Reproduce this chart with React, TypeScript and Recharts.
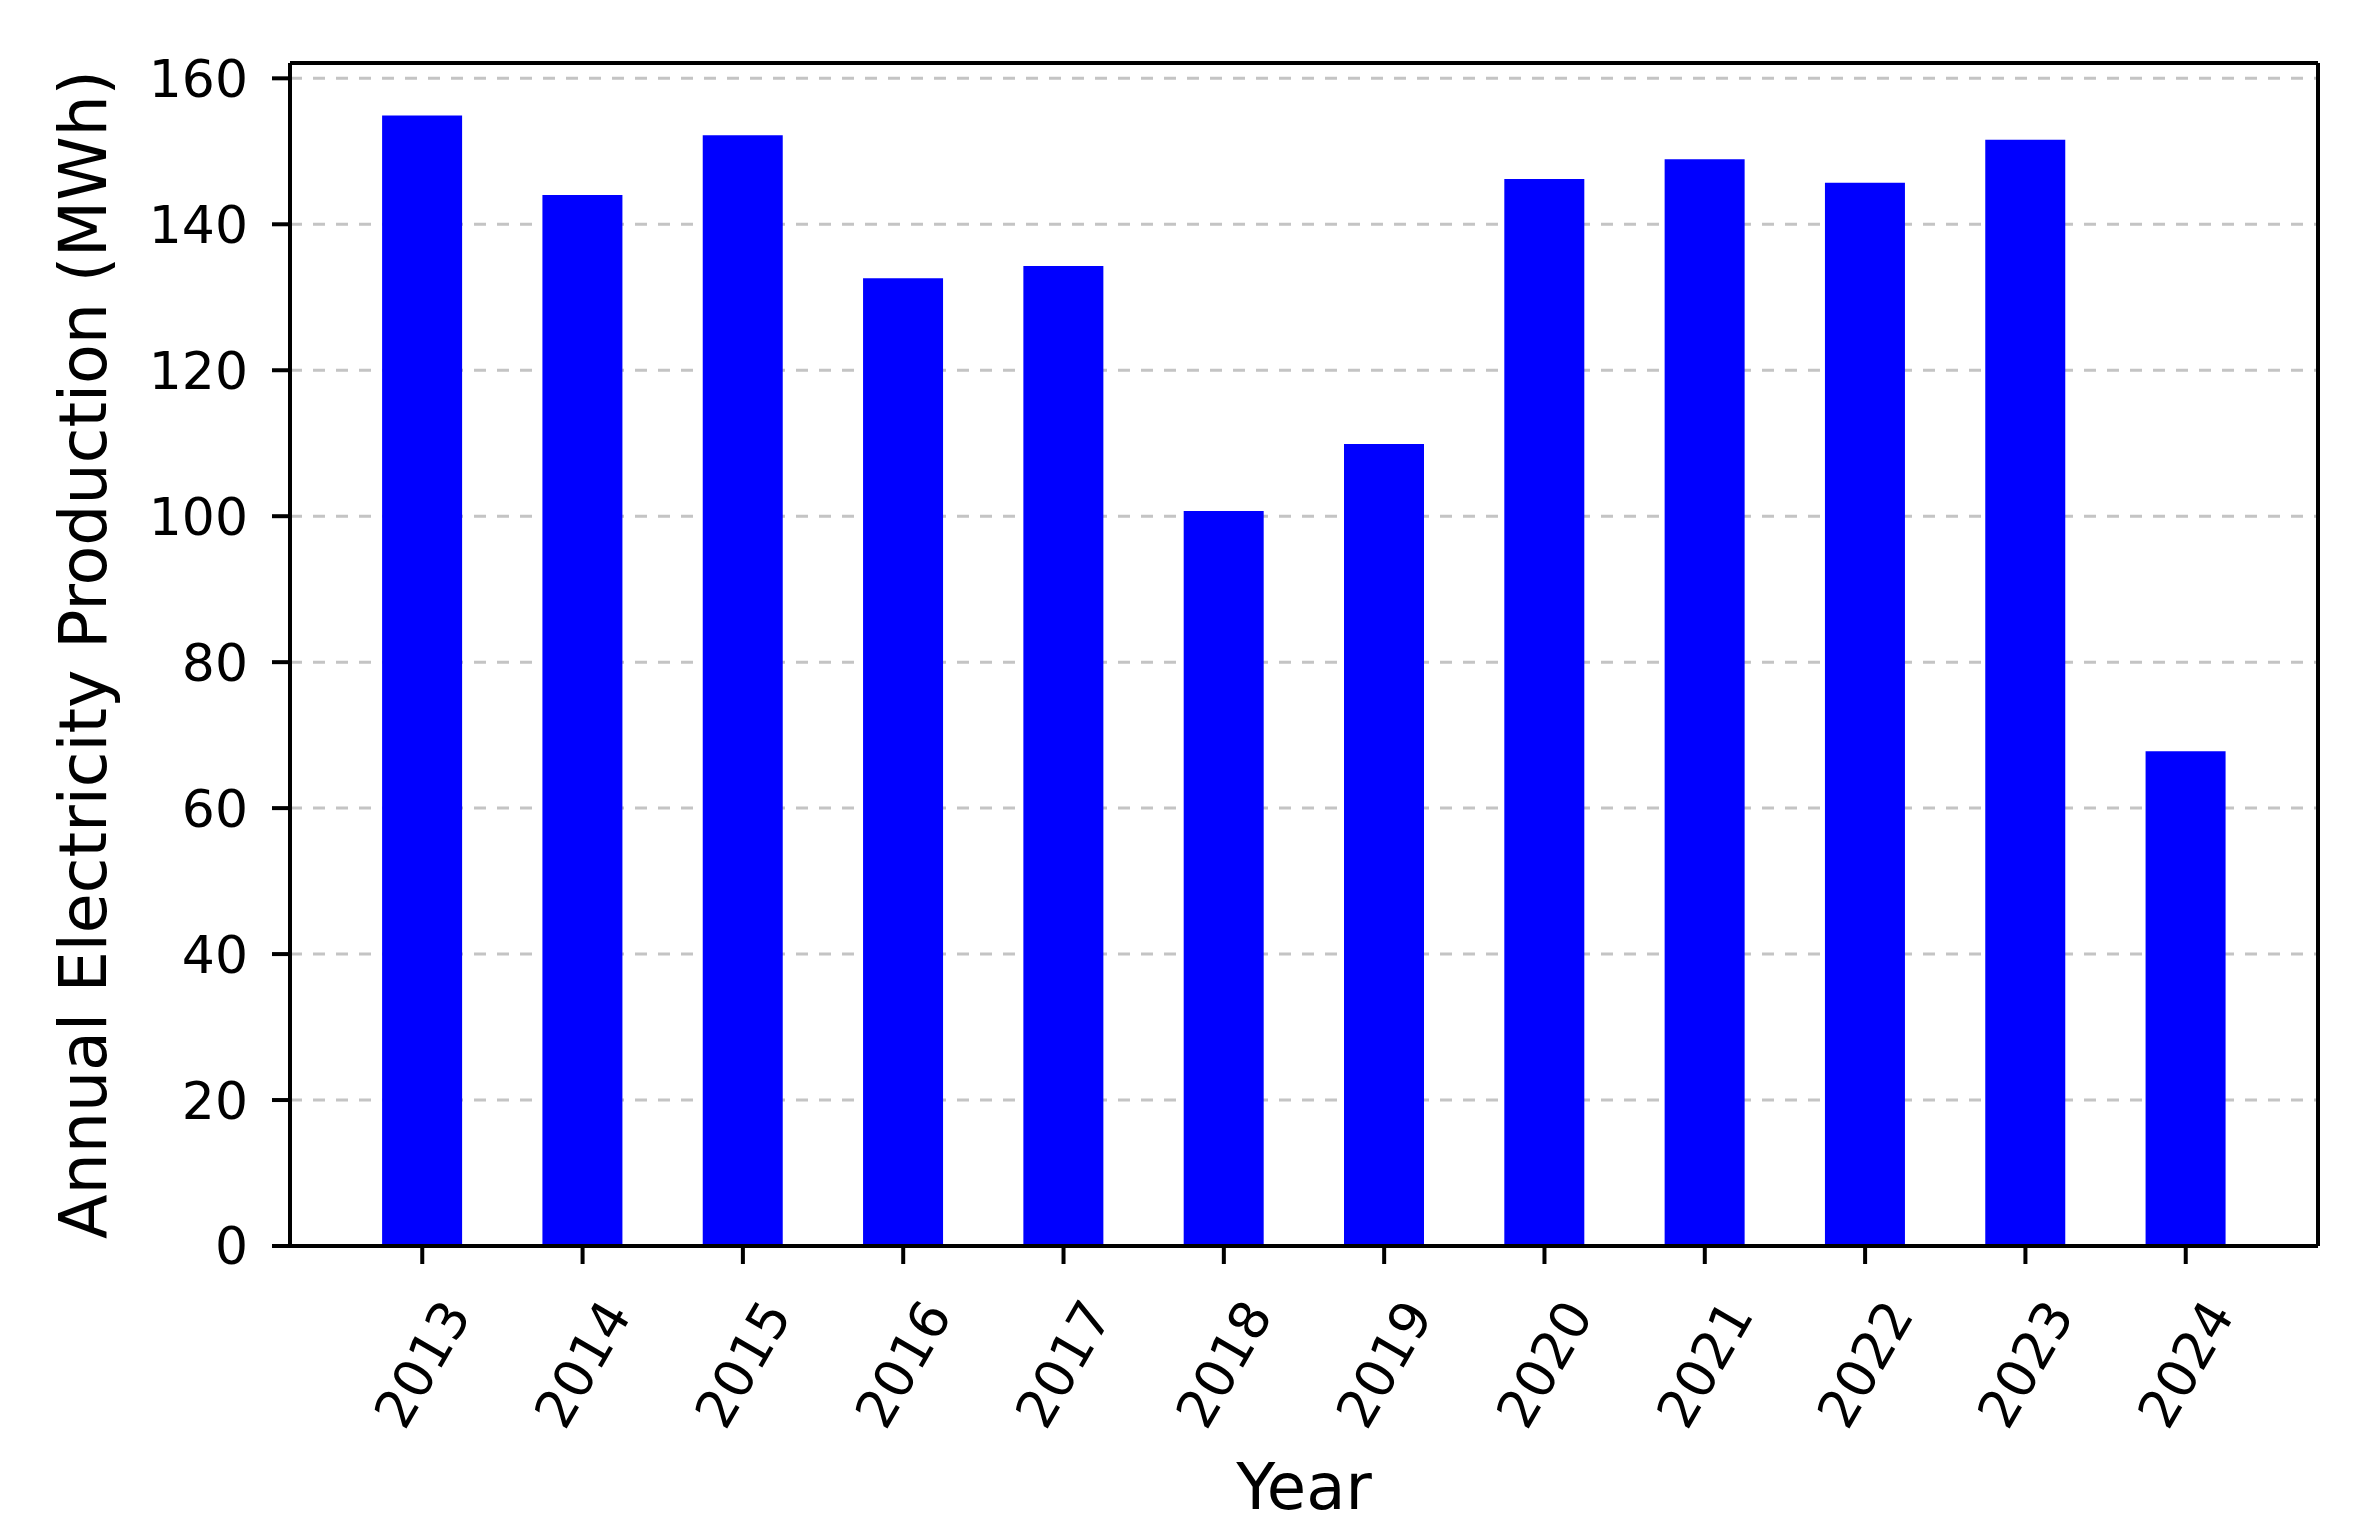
import React from 'react';
import { BarChart, Bar, XAxis, YAxis, CartesianGrid, Label, ReferenceLine } from 'recharts';

const years = ['2013', '2014', '2015', '2016', '2017', '2018', '2019', '2020', '2021', '2022', '2023', '2024'];
const production = [154.9, 144.0, 152.2, 132.6, 134.3, 100.7, 109.9, 146.2, 148.9, 145.7, 151.6, 67.8];
const yTicks = [0, 20, 40, 60, 80, 100, 120, 140, 160];
const yMax = 162.1;
// x limits as matplotlib sets them: bar edges plus 5% margin
const xMin = -0.825;
const xMax = 11.825;

const data = years.map((year, i) => ({ idx: i, year, value: production[i] }));
const xTicks = data.map(d => d.idx);

const FONT = '"DejaVu Sans", Verdana, sans-serif';

// rotated year labels, centred under each tick like matplotlib rotation=60
const YearTick = (props: any) => {
  const { x, y, payload } = props;
  const cy = y + 100;
  return (
    <text
      x={x}
      y={cy}
      transform={`rotate(-60, ${x}, ${cy})`}
      textAnchor="middle"
      dominantBaseline="central"
      fontSize={53}
      fontFamily={FONT}
      fill="#000"
    >
      {years[payload.value]}
    </text>
  );
};

const YLabel = (props: any) => {
  const { viewBox } = props;
  const cx = viewBox.x + 83;
  const cy = viewBox.y + viewBox.height / 2;
  return (
    <text
      x={cx}
      y={cy}
      transform={`rotate(-90, ${cx}, ${cy})`}
      textAnchor="middle"
      dominantBaseline="central"
      fontSize={65}
      fontFamily={FONT}
      fill="#000"
    >
      Annual Electricity Production (MWh)
    </text>
  );
};

const XLabel = (props: any) => {
  const { viewBox } = props;
  return (
    <text
      x={viewBox.x + viewBox.width / 2}
      y={viewBox.y + 241}
      textAnchor="middle"
      dominantBaseline="central"
      fontSize={64}
      fontFamily={FONT}
      fill="#000"
    >
      Year
    </text>
  );
};

export default function App() {
  return (
    <div style={{ position: 'absolute', left: 0, top: 0, background: '#fff' }}>
      <BarChart
        width={2360}
        height={1535}
        data={data}
        margin={{ top: 63, right: 42, bottom: 0, left: 0 }}
      >
        <CartesianGrid
          vertical={false}
          horizontalValues={yTicks}
          stroke="#c4c4c4"
          strokeWidth={3}
          strokeDasharray="12 11"
        />
        <XAxis
          dataKey="idx"
          type="number"
          domain={[xMin, xMax]}
          ticks={xTicks}
          interval={0}
          height={289}
          axisLine={{ stroke: '#000', strokeWidth: 4 }}
          tickLine={{ stroke: '#000', strokeWidth: 4 }}
          tickSize={18}
          tickMargin={0}
          tick={<YearTick />}
        >
          <Label content={<XLabel />} />
        </XAxis>
        <YAxis
          domain={[0, yMax]}
          ticks={yTicks}
          width={290}
          interval={0}
          axisLine={{ stroke: '#000', strokeWidth: 4 }}
          tickLine={{ stroke: '#000', strokeWidth: 4 }}
          tickSize={18}
          tickMargin={24}
          tick={{ fontSize: 52, fill: '#000', fontFamily: FONT }}
        >
          <Label content={<YLabel />} />
        </YAxis>
        <Bar dataKey="value" fill="#0000ff" barSize={80} isAnimationActive={false} />
        {/* top and right spines */}
        <ReferenceLine y={yMax} stroke="#000" strokeWidth={4} ifOverflow="visible" />
        <ReferenceLine x={xMax} stroke="#000" strokeWidth={4} ifOverflow="visible" />
      </BarChart>
    </div>
  );
}
